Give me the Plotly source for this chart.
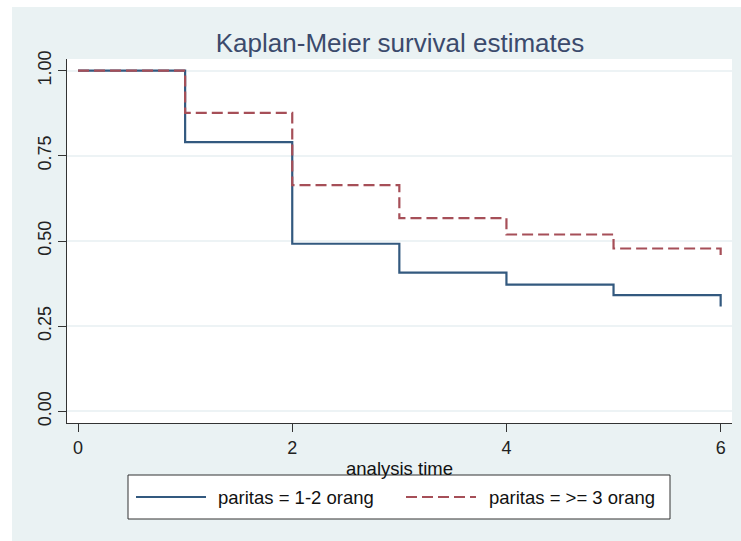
import plotly.graph_objects as go

# Kaplan-Meier survival estimates by parity group
time = [0, 1, 2, 3, 4, 5, 6]
surv_1_2 = [1.0, 0.790, 0.492, 0.407, 0.372, 0.341, 0.308]
surv_3_plus = [1.0, 0.876, 0.664, 0.567, 0.519, 0.478, 0.452]

group_labels = ["paritas = 1-2 orang", "paritas = >= 3 orang"]
x_ticks = [0, 2, 4, 6]
y_ticks = [0.0, 0.25, 0.50, 0.75, 1.00]
y_tick_text = ["0.00", "0.25", "0.50", "0.75", "1.00"]

BLUE = "#33597f"
RED = "#a64f58"
PANEL = "#eaf2f3"
GRID = "#edf3f5"
FONT = "Liberation Sans, Arial, sans-serif"
DASH = "11px,5px"

W, H = 741, 541
L, R, T, B = 67, 9, 59, 118
PW, PH = W - L - R, H - T - B


def px_x(px):
    return (px - L) / PW


def px_y(py):
    return (H - B - py) / PH


fig = go.Figure()
fig.add_trace(go.Scatter(
    x=time, y=surv_1_2, mode="lines", line_shape="hv",
    line=dict(color=BLUE, width=2.2), name=group_labels[0], showlegend=False,
))
fig.add_trace(go.Scatter(
    x=time, y=surv_3_plus, mode="lines", line_shape="hv",
    line=dict(color=RED, width=2.2, dash=DASH), name=group_labels[1],
    showlegend=False,
))

shapes = [
    # white page strips around the graph region
    dict(type="rect", xref="paper", yref="paper", x0=px_x(-5), x1=px_x(12),
         y0=px_y(H + 5), y1=px_y(-5), fillcolor="white", line_width=0, layer="below"),
    dict(type="rect", xref="paper", yref="paper", x0=px_x(-5), x1=px_x(W + 5),
         y0=px_y(7), y1=px_y(-5), fillcolor="white", line_width=0, layer="below"),
    # legend box
    dict(type="rect", xref="paper", yref="paper", x0=px_x(128), x1=px_x(670),
         y0=px_y(519), y1=px_y(475), fillcolor="white",
         line=dict(color="#333333", width=1)),
    dict(type="line", xref="paper", yref="paper", x0=px_x(136), x1=px_x(206),
         y0=px_y(497), y1=px_y(497), line=dict(color=BLUE, width=2.2)),
    dict(type="line", xref="paper", yref="paper", x0=px_x(406), x1=px_x(476),
         y0=px_y(497), y1=px_y(497), line=dict(color=RED, width=2.2, dash=DASH)),
]

annotations = [
    dict(text=group_labels[0], xref="paper", yref="paper", x=px_x(216), y=px_y(497),
         xanchor="left", yanchor="middle", showarrow=False,
         font=dict(family=FONT, size=18.5, color="#111111")),
    dict(text=group_labels[1], xref="paper", yref="paper", x=px_x(487), y=px_y(497),
         xanchor="left", yanchor="middle", showarrow=False,
         font=dict(family=FONT, size=18.5, color="#111111")),
]

fig.update_layout(
    width=W, height=H,
    margin=dict(l=L, r=R, t=T, b=B, pad=0),
    paper_bgcolor=PANEL, plot_bgcolor="white",
    title=dict(text="Kaplan-Meier survival estimates", x=400 / W, xanchor="center",
               y=1 - 43 / H, yanchor="middle", yref="container",
               font=dict(family=FONT, size=26, color="#3b4a6c")),
    shapes=shapes, annotations=annotations,
    showlegend=False,
)

fig.update_xaxes(
    range=[-0.103, 6.106], tickvals=x_ticks, ticks="outside", ticklen=8,
    tickcolor="#333333", showline=True, linecolor="#333333", linewidth=1,
    showgrid=False, zeroline=False,
    tickfont=dict(family=FONT, size=18, color="#222222"),
    title=dict(text="analysis time", standoff=5,
               font=dict(family=FONT, size=18.5, color="#111111")),
)
fig.update_yaxes(
    range=[-0.034, 1.034], tickvals=y_ticks, ticktext=y_tick_text, tickangle=-90,
    ticks="outside", ticklen=8, tickcolor="#333333", showline=True,
    linecolor="#333333", linewidth=1, showgrid=True, gridcolor=GRID, gridwidth=1.5,
    zeroline=False,
    tickfont=dict(family=FONT, size=18, color="#222222"),
)

fig.write_html("out.html")
